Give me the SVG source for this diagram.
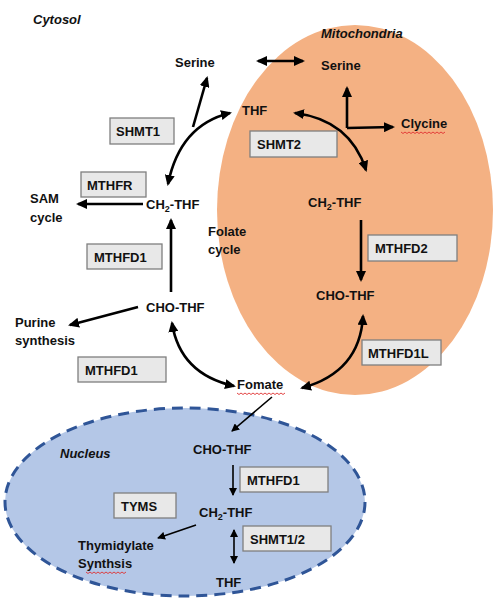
<svg xmlns="http://www.w3.org/2000/svg" width="500" height="610" viewBox="0 0 500 610">
<defs>
<style>
text{font-family:"Liberation Sans",Arial,sans-serif;font-weight:bold;font-size:13px;fill:#111}
.it{font-style:italic}
.box{fill:#E8E8E8;stroke:#7F7F7F;stroke-width:1.3}
.a{fill:none;stroke:#000;stroke-width:2.6}
.t{fill:none;stroke:#000;stroke-width:1.6}
.sq{fill:none;stroke:#E03030;stroke-width:0.9}
</style>
<marker id="ah" markerUnits="userSpaceOnUse" markerWidth="11" markerHeight="10" refX="9" refY="5" orient="auto-start-reverse"><path d="M0,0 L11,5 L0,10 z" fill="#000"/></marker>
<marker id="ahs" markerUnits="userSpaceOnUse" markerWidth="8" markerHeight="8" refX="7" refY="4" orient="auto-start-reverse"><path d="M0,0 L8,4 L0,8 z" fill="#000"/></marker>
</defs>
<rect width="500" height="610" fill="#fff"/>
<g id="mitochondria"><ellipse cx="355" cy="210" rx="138" ry="185" fill="#F4B183"/></g>
<g id="nucleus"><ellipse cx="185" cy="502" rx="180" ry="94" fill="#B4C7E7" stroke="#2F5597" stroke-width="3" stroke-dasharray="11 7"/></g>
<g id="labels">
<text class="it" x="33" y="24">Cytosol</text>
<text class="it" x="321" y="38" font-size="12">Mitochondria</text>
<text class="it" x="60" y="458">Nucleus</text>
<text x="208" y="236">Folate</text>
<text x="208" y="254">cycle</text>
</g>
<g id="n-serine-c"><text x="175" y="67">Serine</text></g>
<g id="n-serine-m"><text x="321" y="70">Serine</text></g>
<g id="n-thf-m"><text x="242" y="115">THF</text></g>
<g id="n-glycine"><text x="401" y="128">Clycine</text><path class="sq" d="M401,132 l2,1.5 l2,-1.5 l2,1.5 l2,-1.5 l2,1.5 l2,-1.5 l2,1.5 l2,-1.5 l2,1.5 l2,-1.5 l2,1.5 l2,-1.5 l2,1.5 l2,-1.5 l2,1.5 l2,-1.5 l2,1.5 l2,-1.5 l2,1.5 l2,-1.5 l2,1.5 l2,-1.5"/></g>
<g id="n-ch2thf-c"><text x="146" y="209">CH<tspan font-size="9" dy="3">2</tspan><tspan dy="-3">-THF</tspan></text></g>
<g id="n-sam"><text x="30" y="203">SAM</text><text x="30" y="222">cycle</text></g>
<g id="n-chothf-c"><text x="146" y="312">CHO-THF</text></g>
<g id="n-purine"><text x="15" y="327">Purine</text><text x="15" y="345">synthesis</text></g>
<g id="n-ch2thf-m"><text x="308" y="207">CH<tspan font-size="9" dy="3">2</tspan><tspan dy="-3">-THF</tspan></text></g>
<g id="n-chothf-m"><text x="316" y="300">CHO-THF</text></g>
<g id="n-fomate"><text x="237" y="389">Fomate</text><path class="sq" d="M237,393 l2,1.5 l2,-1.5 l2,1.5 l2,-1.5 l2,1.5 l2,-1.5 l2,1.5 l2,-1.5 l2,1.5 l2,-1.5 l2,1.5 l2,-1.5 l2,1.5 l2,-1.5 l2,1.5 l2,-1.5 l2,1.5 l2,-1.5 l2,1.5 l2,-1.5 l2,1.5 l2,-1.5 l2,1.5 l2,-1.5"/></g>
<g id="n-chothf-n"><text x="193" y="454">CHO-THF</text></g>
<g id="n-ch2thf-n"><text x="199" y="517">CH<tspan font-size="9" dy="3">2</tspan><tspan dy="-3">-THF</tspan></text></g>
<g id="n-thymidylate"><text x="78" y="550">Thymidylate</text><text x="78" y="568">Synthsis</text><path class="sq" d="M86,572 l2,1.5 l2,-1.5 l2,1.5 l2,-1.5 l2,1.5 l2,-1.5 l2,1.5 l2,-1.5 l2,1.5 l2,-1.5 l2,1.5 l2,-1.5 l2,1.5 l2,-1.5 l2,1.5 l2,-1.5 l2,1.5 l2,-1.5 l2,1.5 l2,-1.5"/></g>
<g id="n-thf-n"><text x="216" y="587">THF</text></g>
<g id="enz-shmt1"><rect class="box" x="110" y="118" width="64" height="26"/><text x="116" y="136">SHMT1</text></g>
<g id="enz-shmt2"><rect class="box" x="250" y="131" width="87" height="26"/><text x="257" y="149">SHMT2</text></g>
<g id="enz-mthfr"><rect class="box" x="81" y="172" width="65" height="25"/><text x="87" y="190">MTHFR</text></g>
<g id="enz-mthfd1a"><rect class="box" x="87" y="244" width="75" height="25"/><text x="94" y="262">MTHFD1</text></g>
<g id="enz-mthfd2"><rect class="box" x="368" y="235" width="89" height="26"/><text x="375" y="253">MTHFD2</text></g>
<g id="enz-mthfd1b"><rect class="box" x="78" y="357" width="88" height="25"/><text x="85" y="375">MTHFD1</text></g>
<g id="enz-mthfd1l"><rect class="box" x="362" y="340" width="79" height="25"/><text x="368" y="358">MTHFD1L</text></g>
<g id="enz-mthfd1n"><rect class="box" x="240" y="467" width="88" height="25"/><text x="247" y="485">MTHFD1</text></g>
<g id="enz-tyms"><rect class="box" x="114" y="493" width="62" height="25"/><text x="121" y="511">TYMS</text></g>
<g id="enz-shmt12"><rect class="box" x="243" y="526" width="88" height="25"/><text x="250" y="544">SHMT1/2</text></g>
<g id="connectors">
<path class="a" d="M258,61 L303,61" marker-start="url(#ah)" marker-end="url(#ah)"/>
<path class="a" d="M230,113 Q180,125 168,184" marker-start="url(#ah)" marker-end="url(#ah)"/>
<path class="a" d="M193,127 L207,78" marker-end="url(#ah)"/>
<path class="a" d="M295,113 Q350,120 366,170" marker-start="url(#ah)" marker-end="url(#ah)"/>
<path class="a" d="M347,128 L347,88" marker-end="url(#ah)"/>
<path class="a" d="M347,128 L393,127" marker-end="url(#ah)"/>
<path class="a" d="M143,204 L78,204" marker-end="url(#ah)"/>
<path class="a" d="M171,292 L171,220" marker-end="url(#ah)"/>
<path class="a" d="M138,307 L70,325" marker-end="url(#ah)"/>
<path class="a" d="M172,323 Q180,374 234,386" marker-start="url(#ah)" marker-end="url(#ah)"/>
<path class="a" d="M361,220 L361,280" marker-end="url(#ah)"/>
<path class="a" d="M363,316 Q360,372 302,388" marker-start="url(#ah)" marker-end="url(#ah)"/>
<path class="t" d="M272,397 L232,431" marker-end="url(#ahs)"/>
<path class="t" d="M233,465 L233,495" marker-end="url(#ahs)"/>
<path class="t" d="M196,525 L158,538" marker-end="url(#ahs)"/>
<path class="t" d="M234,530 L234,563" marker-start="url(#ahs)" marker-end="url(#ahs)"/>
</g>
</svg>
